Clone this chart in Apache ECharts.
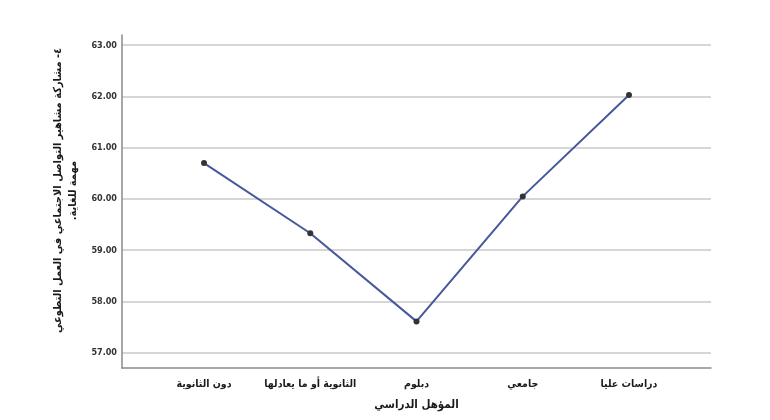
<!DOCTYPE html>
<html>
<head>
<meta charset="utf-8">
<script src="https://cdn.jsdelivr.net/npm/echarts@6/dist/echarts.min.js"></script>
<style>
html,body{margin:0;padding:0;background:#fff;}
#chart{width:770px;height:420px;}
</style>
</head>
<body>
<div id="chart"></div>
<script>
const categories = ['دون الثانوية', 'الثانوية أو ما يعادلها', 'دبلوم', 'جامعي', 'دراسات عليا'];
const meanValues = [60.70, 59.33, 57.61, 60.05, 62.03];
const yTickValues = [57, 58, 59, 60, 61, 62, 63];
const xTickValues = [0, 1, 2, 3, 4];
const yTitle = '\u200F٤- مشاركة مشاهير التواصل الاجتماعي في العمل التطوعي\u200F\n\u200Fمهمة للغاية.\u200F';
const xTitle = 'المؤهل الدراسي';

const arabicFont = '"DejaVu Sans Condensed", "DejaVu Sans", sans-serif';
const chart = echarts.init(document.getElementById('chart'));
chart.setOption({
  animation: false,
  backgroundColor: '#ffffff',
  grid: { left: 122, right: 59, top: 35, bottom: 52 },
  xAxis: {
    type: 'value',
    min: -0.772,
    max: 4.772,
    name: xTitle,
    nameLocation: 'middle',
    nameGap: 31,
    nameTextStyle: { fontFamily: arabicFont, fontWeight: 'bold', fontSize: 11.5, color: '#1a1a1a' },
    axisLine: { show: true, onZero: false, lineStyle: { color: '#8a8a8a', width: 1.5 } },
    axisTick: { show: false, customValues: xTickValues },
    splitLine: { show: false },
    axisLabel: {
      customValues: xTickValues,
      margin: 11,
      fontFamily: arabicFont,
      fontWeight: 'bold',
      fontSize: 10.5,
      color: '#1a1a1a',
      formatter: v => categories[Math.round(v)]
    }
  },
  yAxis: {
    type: 'value',
    min: 56.7,
    max: 63.2,
    name: yTitle,
    nameLocation: 'middle',
    nameRotate: 90,
    nameGap: 35,
    nameTextStyle: { fontFamily: arabicFont, fontWeight: 'bold', fontSize: 11, color: '#1a1a1a', lineHeight: 15, padding: [0, 0, 0, 22] },
    axisLine: { show: true, onZero: false, lineStyle: { color: '#8a8a8a', width: 1.5 } },
    axisTick: { show: false, customValues: yTickValues },
    splitLine: { show: true, lineStyle: { color: '#c8c8c8', width: 1.5 } },
    axisLabel: {
      customValues: yTickValues,
      margin: 5,
      fontFamily: '"DejaVu Sans Condensed", "DejaVu Sans", sans-serif',
      fontWeight: 'bold',
      fontSize: 9,
      color: '#333',
      formatter: v => v.toFixed(2)
    }
  },
  series: [{
    type: 'line',
    data: meanValues.map((v, i) => [xTickValues[i], v]),
    lineStyle: { color: '#46589a', width: 2 },
    itemStyle: { color: '#333333' },
    symbol: 'circle',
    symbolSize: 6,
    z: 3
  }]
});
</script>
</body>
</html>
